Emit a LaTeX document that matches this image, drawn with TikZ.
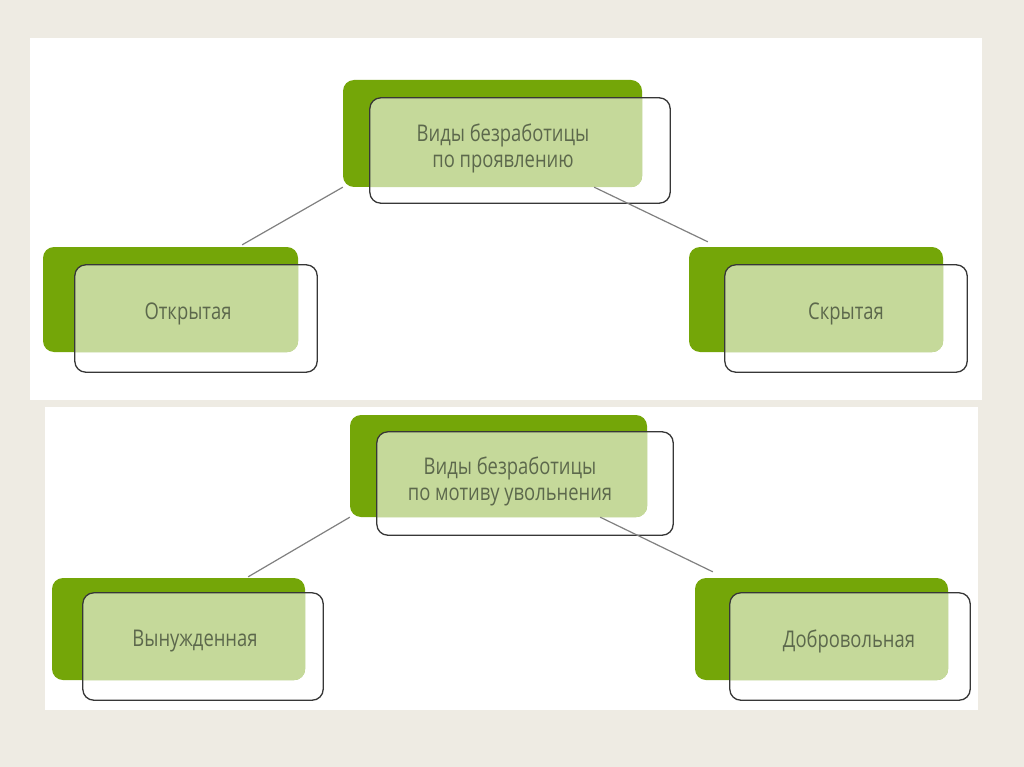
\documentclass[tikz,border=0pt]{standalone}
\usepackage{fontspec}
\newfontfamily\slidefont[FakeStretch=0.8]{Open Sans}
\usepackage{tikz}

\definecolor{slidebg}{RGB}{238,235,227}
\definecolor{darkgreen}{RGB}{116,166,8}
\definecolor{lightgreen}{RGB}{197,217,154}
\definecolor{textgreen}{RGB}{92,104,76}
\definecolor{framegray}{RGB}{55,55,55}
\definecolor{linkgray}{RGB}{128,128,128}

\tikzset{
  darkbox/.style={fill=darkgreen, rounded corners=11pt, inner sep=0pt},
  framebox/.style={inner sep=0pt},
  frameline/.style={draw=framegray, line width=1.3pt, rounded corners=11pt},
  lbl/.style={font=\slidefont\fontsize{23}{26}\selectfont, text=textgreen, align=center, inner sep=0pt},
  link/.style={draw=linkgray, line width=1.2pt},
}

% light overlap of a dark box and its frame, then the frame on top
\newcommand{\lightpart}[2]{%
  \begin{scope}
    \clip[rounded corners=11pt] (#1.south west) rectangle (#1.north east);
    \fill[lightgreen, rounded corners=11pt] (#2.south west) rectangle (#2.north east);
  \end{scope}
  \draw[frameline] (#2.south west) rectangle (#2.north east);}

\begin{document}
\begin{tikzpicture}[x=1pt,y=-1pt]
\useasboundingbox (0,0) rectangle (1024,767);

%Background and the two white panels
\fill[slidebg] (0,0) rectangle (1024,767);
\fill[white] (30,38) rectangle (982,400);
\fill[white] (45,407) rectangle (978,710);

%Shape: top panel boxes
\node[darkbox, minimum width=299pt, minimum height=107pt] (vidA) at (492.5,133.5) {};
\path node[framebox, minimum width=300pt, minimum height=105pt] (vidAf) at (520,150.5) {};
\lightpart{vidA}{vidAf}

\node[darkbox, minimum width=255pt, minimum height=105pt] (otkr) at (170.5,299.5) {};
\path node[framebox, minimum width=242pt, minimum height=107pt] (otkrf) at (196,318.5) {};
\lightpart{otkr}{otkrf}

\node[darkbox, minimum width=254pt, minimum height=105pt] (skr) at (816,299.5) {};
\path node[framebox, minimum width=242pt, minimum height=107pt] (skrf) at (846,318.5) {};
\lightpart{skr}{skrf}

%Shape: bottom panel boxes
\node[darkbox, minimum width=297pt, minimum height=102pt] (vidB) at (498.5,466) {};
\path node[framebox, minimum width=296pt, minimum height=103pt] (vidBf) at (525,483.5) {};
\lightpart{vidB}{vidBf}

\node[darkbox, minimum width=253pt, minimum height=102pt] (vyn) at (178.5,629) {};
\path node[framebox, minimum width=240pt, minimum height=107pt] (vynf) at (203,646.5) {};
\lightpart{vyn}{vynf}

\node[darkbox, minimum width=253pt, minimum height=102pt] (dobr) at (821.5,629) {};
\path node[framebox, minimum width=240pt, minimum height=107pt] (dobrf) at (850,646.5) {};
\lightpart{dobr}{dobrf}

% Text Node
\node[lbl] (t-vidA) at (503,148) {Виды безработицы\\по проявлению};
% Text Node
\node[lbl] (t-otkr) at (188,314) {Открытая};
% Text Node
\node[lbl] (t-skr) at (846,314) {Скрытая};
% Text Node
\node[lbl] (t-vidB) at (510,481) {Виды безработицы\\по мотиву увольнения};
% Text Node
\node[lbl] (t-vyn) at (195,641) {Вынужденная};
% Text Node
\node[lbl] (t-dobr) at (849,641) {Добровольная};

%Straight Lines
\draw[link] (vidA.south west) -- ([xshift=-56pt,yshift=2pt]otkr.north east);
\draw[link] ([xshift=-48pt]vidA.south east) -- ([xshift=19pt,yshift=5pt]skr.north west);
\draw[link] (vidB.south west) -- ([xshift=-57pt,yshift=1pt]vyn.north east);
\draw[link] ([xshift=-47pt]vidB.south east) -- ([xshift=18pt,yshift=6pt]dobr.north west);

\end{tikzpicture}
\end{document}
